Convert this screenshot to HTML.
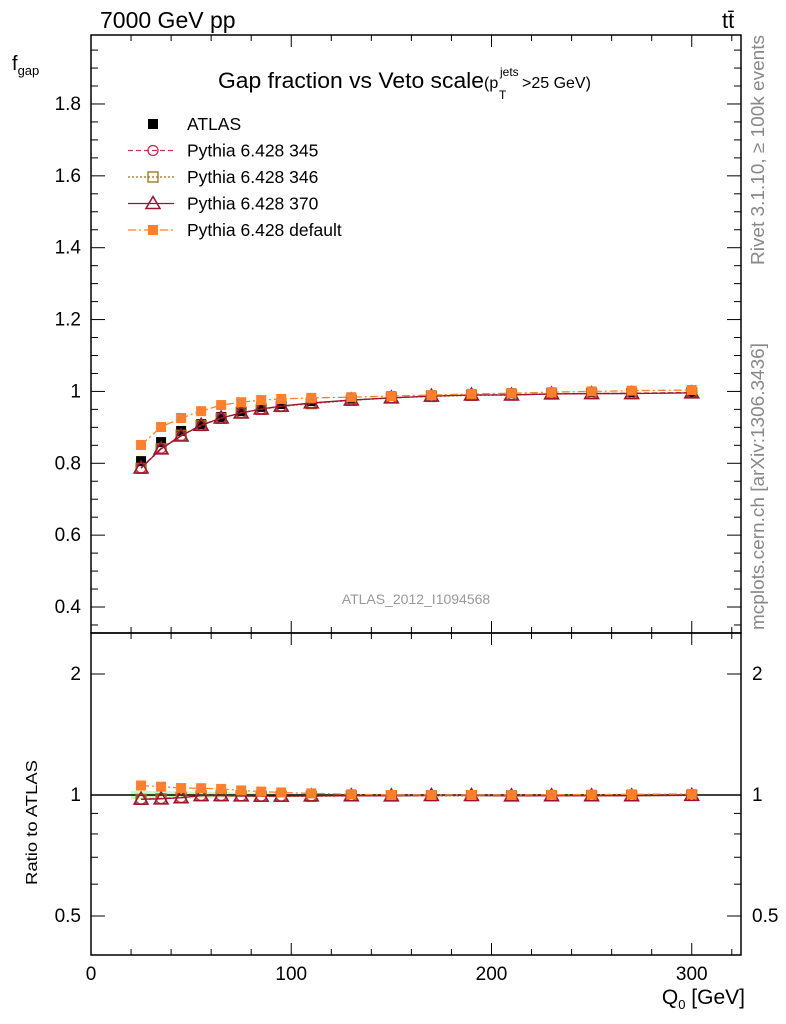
<!DOCTYPE html>
<html><head><meta charset="utf-8"><style>
body{margin:0;background:#fff;font-family:"Liberation Sans",sans-serif}
svg{display:block}
</style></head><body>
<svg id="c" width="786" height="1024" xmlns="http://www.w3.org/2000/svg" font-family="Liberation Sans, sans-serif">
<g id="g"></g>
</svg>
<script>
const xVals=[25,35,45,55,65,75,85,95,110,130,150,170,190,210,230,250,270,300];
const atlas=[0.806,0.859,0.890,0.909,0.929,0.945,0.957,0.965,0.973,0.980,0.987,0.990,0.993,0.995,0.997,0.998,0.998,0.998];
const p345=[0.787,0.842,0.877,0.906,0.926,0.940,0.951,0.959,0.967,0.976,0.982,0.987,0.990,0.991,0.993,0.994,0.995,0.997];
const p346=[0.786,0.840,0.878,0.905,0.925,0.941,0.950,0.958,0.966,0.975,0.982,0.986,0.989,0.990,0.993,0.994,0.994,0.996];
const p370=[0.787,0.840,0.876,0.906,0.926,0.940,0.951,0.959,0.968,0.976,0.982,0.987,0.990,0.990,0.993,0.994,0.994,0.996];
const pdef=[0.851,0.901,0.926,0.945,0.962,0.970,0.976,0.979,0.982,0.984,0.987,0.990,0.993,0.995,0.998,1.000,1.002,1.004];
const yTicks=[0.4,0.6,0.8,1,1.2,1.4,1.6,1.8];
const rTicks=[0.5,1,2];
const xTicks=[0,100,200,300];

const NS="http://www.w3.org/2000/svg";
const G=document.getElementById('g');
function el(t,a,p){const e=document.createElementNS(NS,t);for(const k in a)e.setAttribute(k,a[k]);(p||G).appendChild(e);return e;}
const L=91,R=741,T=35,M=633,B=955;
const X=v=>L+(v)*(650/324.6);
const Y=v=>607-(v-0.4)*359.3;
const RY=v=>795-Math.log2(v)*121;

let f=el('rect',{x:L,y:T,width:R-L,height:M-T,fill:'none',stroke:'#000','stroke-width':1.5});

f=el('rect',{x:L,y:M,width:R-L,height:B-M,fill:'none',stroke:'#000','stroke-width':1.5});


for(let v=0;v<=320;v+=20){const major=v%100===0;const h=major?12:6;const x=X(v);
 for(const [y0,d] of [[M,-1],[T,1],[B,-1],[M,1]]) el('line',{x1:x,x2:x,y1:y0,y2:y0+d*h,stroke:'#000'});}
xTicks.forEach(v=>{const t=el('text',{x:X(v),y:980,'font-size':19,'text-anchor':'middle'});t.textContent=v;
 });
for(let i=7;i<=40;i++){const v=i*0.05;const y=Y(v);if(y<T||y>M)continue;const h=(i%4===0)?14:7;
 el('line',{x1:L,x2:L+h,y1:y,y2:y,stroke:'#000'});el('line',{x1:R,x2:R-h,y1:y,y2:y,stroke:'#000'});}
yTicks.forEach(v=>{const t=el('text',{x:81,y:Y(v)+1,'font-size':19,'text-anchor':'end','dominant-baseline':'middle'});t.textContent=v;
 });
[0.4,0.5,0.6,0.7,0.8,0.9,1,2].forEach(v=>{const y=RY(v);const h=(v===0.5||v===1||v===2)?14:7;
 el('line',{x1:L,x2:L+h,y1:y,y2:y,stroke:'#000'});el('line',{x1:R,x2:R-h,y1:y,y2:y,stroke:'#000'});});
rTicks.forEach(v=>{for(const [x,a] of [[81,'end'],[752,'start']]){const t=el('text',{x:x,y:RY(v)+1,'font-size':19,'text-anchor':a,'dominant-baseline':'middle'});t.textContent=v;
 }});

const bandPts=[];xVals.forEach((x,i)=>{const e=0.025*Math.max(0.1,1-(x-25)/120);bandPts.push([x,e]);});
let up='',dn='';bandPts.forEach(([x,e],i)=>{up+=(i?'L':'M')+X(x-5)+','+RY(1+e)+'L'+X(x+5)+','+RY(1+e);});
for(let i=bandPts.length-1;i>=0;i--){const [x,e]=bandPts[i];dn+='L'+X(x+5)+','+RY(1-e)+'L'+X(x-5)+','+RY(1-e);}
let b=el('path',{d:up+dn+'Z',fill:'#9f9',opacity:0.6});
let rl=el('line',{x1:L,x2:R,y1:RY(1),y2:RY(1),stroke:'#000','stroke-width':1.5});

const series=[
 {d:p345,c:'#c03050',dash:'5,3',m:'circle',name:'pythia-345'},
 {d:p346,c:'#a07010',dash:'2,2',m:'square',name:'pythia-346'},
 {d:p370,c:'#a01030',dash:'',m:'triangle',name:'pythia-370'},
 {d:pdef,c:'#ff7f2a',dash:'8,3,2,3',m:'fsquare',name:'pythia-default'}];
function marker(m,x,y,c,p){let e;
 if(m==='circle')e=el('circle',{cx:x,cy:y,r:5,fill:'none',stroke:c,'stroke-width':1.3},p);
 else if(m==='square')e=el('rect',{x:x-5,y:y-5,width:10,height:10,fill:'none',stroke:c,'stroke-width':1.3},p);
 else if(m==='triangle')e=el('path',{d:`M${x},${y-7}L${x+7},${y+5}L${x-7},${y+5}Z`,fill:'none',stroke:c,'stroke-width':1.5},p);
 else e=el('rect',{x:x-5,y:y-5,width:10,height:10,fill:c},p);return e;}

atlas.forEach((v,i)=>{const r=el('rect',{x:X(xVals[i])-5,y:Y(v)-5,width:10,height:10,fill:'#000'});
 });
series.forEach(s=>{
 const gm=el('g',{});
 const pts=s.d.map((v,i)=>X(xVals[i])+','+Y(v)).join(' ');
 el('polyline',{points:pts,fill:'none',stroke:s.c,'stroke-width':1.3,'stroke-dasharray':s.dash},gm);
 s.d.forEach((v,i)=>marker(s.m,X(xVals[i]),Y(v),s.c,gm));
 const gr=el('g',{});
 const rp=s.d.map((v,i)=>X(xVals[i])+','+RY(v/atlas[i])).join(' ');
 el('polyline',{points:rp,fill:'none',stroke:s.c,'stroke-width':1.3,'stroke-dasharray':s.dash},gr);
 s.d.forEach((v,i)=>marker(s.m,X(xVals[i]),RY(v/atlas[i]),s.c,gr));
});

const lg=el('g',{});
const labels=['ATLAS','Pythia 6.428 345','Pythia 6.428 346','Pythia 6.428 370','Pythia 6.428 default'];
labels.forEach((t,i)=>{const y=124+i*26.5;
 if(i===0)el('rect',{x:148,y:y-5,width:10,height:10,fill:'#000'},lg);
 else{const s=series[i-1];el('line',{x1:128,x2:174,y1:y,y2:y,stroke:s.c,'stroke-width':1.3,'stroke-dasharray':s.dash},lg);marker(s.m,153,y,s.c,lg);}
 const tx=el('text',{x:187,y:y+6,'font-size':17.5},lg);tx.textContent=t;});

function txt(s,a,name){const t=el('text',a);t.innerHTML=s;return t;}
txt('7000 GeV pp',{x:100,y:28,'font-size':23},'energy-label');
txt('tt̄',{x:722,y:28,'font-size':22},'process-label');
txt('Gap fraction vs Veto scale',{x:218,y:88,'font-size':22,textLength:266,lengthAdjust:'spacingAndGlyphs'},'plot-title');
txt('(p',{x:484,y:88,'font-size':16},'plot-title-cut-open');
txt('jets',{x:500,y:76,'font-size':12},'plot-title-cut-sup');
txt('T',{x:499,y:99,'font-size':12},'plot-title-cut-sub');
txt('&gt;25 GeV)',{x:522,y:88,'font-size':16},'plot-title-cut-close');
txt('f<tspan font-size="13" dy="5">gap</tspan>',{x:12,y:70,'font-size':20},'y-axis-title');
txt('Q<tspan font-size="13" dy="5">0</tspan><tspan dy="-5"> [GeV]</tspan>',{x:745,y:1004,'font-size':21,'text-anchor':'end'},'x-axis-title');
txt('Ratio to ATLAS',{x:37,y:885,'font-size':16,textLength:125,lengthAdjust:'spacingAndGlyphs',transform:'rotate(-90 37 885)'},'ratio-axis-title');
txt('Rivet 3.1.10, ≥ 100k events',{x:764,y:265,'font-size':18,fill:'#888',textLength:230,lengthAdjust:'spacingAndGlyphs',transform:'rotate(-90 764 265)'},'rivet-label');
txt('mcplots.cern.ch [arXiv:1306.3436]',{x:764,y:630,'font-size':18,fill:'#888',textLength:287,lengthAdjust:'spacingAndGlyphs',transform:'rotate(-90 764 630)'},'mcplots-label');
txt('ATLAS_2012_I1094568',{x:416,y:604,'font-size':14,fill:'#999','text-anchor':'middle'},'analysis-id');
</script>
</body></html>
